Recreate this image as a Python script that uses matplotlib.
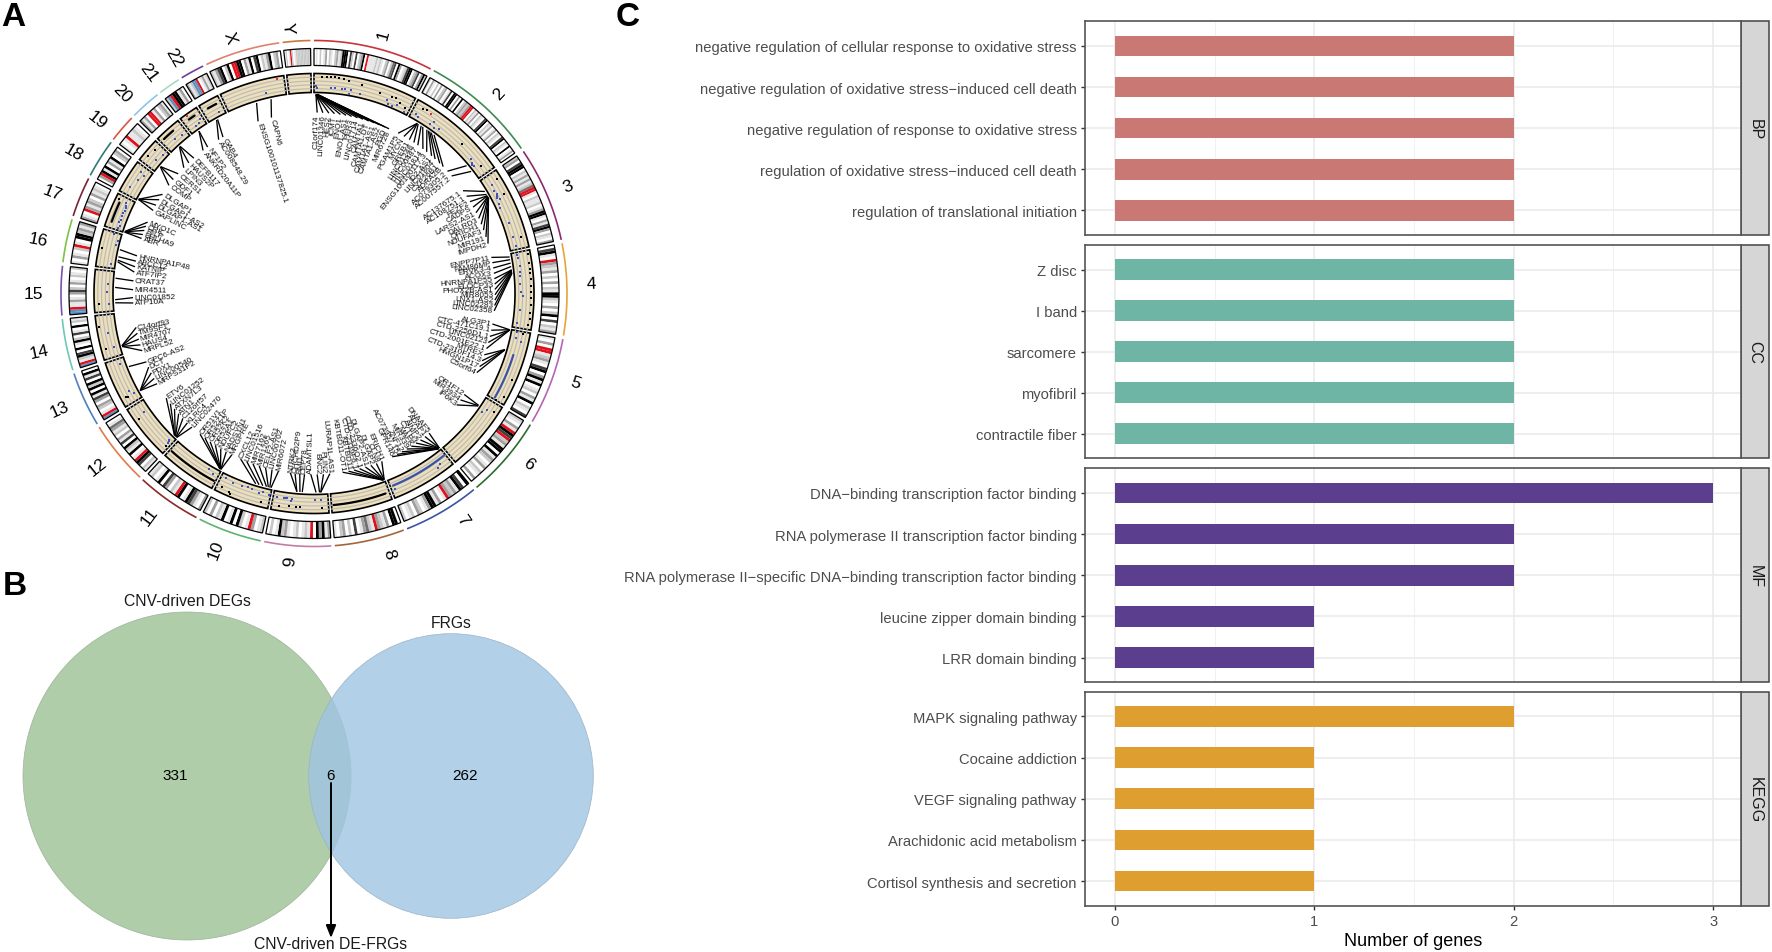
import numpy as np
import matplotlib
matplotlib.use("Agg")
import matplotlib.pyplot as plt
from matplotlib.collections import PolyCollection, LineCollection
from matplotlib.patches import Circle, Rectangle

plt.rcParams['font.family'] = ['Liberation Sans', 'DejaVu Sans']

W, H = 1772, 953

# ---------- Panel C data ----------
BP_TERMS = ["negative regulation of cellular response to oxidative stress",
            "negative regulation of oxidative stress\u2212induced cell death",
            "negative regulation of response to oxidative stress",
            "regulation of oxidative stress\u2212induced cell death",
            "regulation of translational initiation"]
BP_COUNTS = [2, 2, 2, 2, 2]
CC_TERMS = ["Z disc", "I band", "sarcomere", "myofibril", "contractile fiber"]
CC_COUNTS = [2, 2, 2, 2, 2]
MF_TERMS = ["DNA\u2212binding transcription factor binding",
            "RNA polymerase II transcription factor binding",
            "RNA polymerase II\u2212specific DNA\u2212binding transcription factor binding",
            "leucine zipper domain binding", "LRR domain binding"]
MF_COUNTS = [3, 2, 2, 1, 1]
KEGG_TERMS = ["MAPK signaling pathway", "Cocaine addiction", "VEGF signaling pathway",
              "Arachidonic acid metabolism", "Cortisol synthesis and secretion"]
KEGG_COUNTS = [2, 1, 1, 1, 1]

# ---------- Panel B data ----------
VENN_LEFT_ONLY = "331"
VENN_BOTH = "6"
VENN_RIGHT_ONLY = "262"

# ---------- Panel A data ----------
CHR_NAMES = ["1", "2", "3", "4", "5", "6", "7", "8", "9", "10", "11", "12", "13", "14",
             "15", "16", "17", "18", "19", "20", "21", "22", "X", "Y"]
CHR_MB = [248, 242, 198, 190, 181, 170, 159, 145, 138, 133, 135, 133, 114, 107,
          102, 90, 83, 80, 58, 64, 46, 50, 156, 57]
CHR_ARC_COLORS = ["#C8343A", "#3F8A4E", "#8A2A6E", "#E8A33D", "#B565B5", "#2F6B2F", "#3A53A4",
                  "#A5653A", "#C67BA6", "#5DB46E", "#8B2A2A", "#E07B4A", "#4F7FBF", "#6FC7B8",
                  "#7A52A8", "#7CC243", "#7A2230", "#2F7A72", "#D9553F", "#8EC6E8", "#A7DBC0",
                  "#6A3FA0", "#E08070", "#C8793A"]
CHR_LABEL_DEG = [15, 42.8, 67, 88, 108.8, 128.3, 146.6, 164, 185.1, 201, 216.4, 231.4, 245.6, 258,
                 270, 281, 291.1, 300.4, 308.8, 316.3, 323.2, 329.4, 341.9, 354.4]
CHR_LABEL_R = [269, 272.6, 276, 277, 275.7, 274, 270.7, 270, 268, 274, 276.7, 277.6, 279.7, 281,
               281, 281, 280, 279, 278, 278, 277, 275, 270, 267]
BANDS = {
    "1": "010201302102312666052050236 0r11112121023024506301256602350362".replace(" ", ""),
    "2": "2031020302301506603060232 3rr02130210560213013021056021060130".replace(" ", ""),
    "3": "23056602131312 4rr102112013661031563021 03".replace(" ", ""),
    "4": "05610r32130203021662103026050213",
    "5": "103 0rr1231056036160120316021 05".replace(" ", ""),
    "6": "21031r65r2316606132013021030",
    "7": "6056132 3r10316631023021 02".replace(" ", ""),
    "8": "06603123r12431050203201",
    "9": "316360r12102101326102 0".replace(" ", ""),
    "10": "21 03r1026061061203 02".replace(" ", ""),
    "11": "3013561 06r120350 6102 1".replace(" ", ""),
    "12": "12056r106126051302134 10".replace(" ", ""),
    "13": "br10230351606260516 0".replace(" ", ""),
    "14": "br12650601620510 6021".replace(" ", ""),
    "15": "bbr113103520310210 2".replace(" ", ""),
    "16": "10310 2r10662313".replace(" ", ""),
    "17": "310r3132031210",
    "18": "03r61603160230",
    "19": "101r11210",
    "20": "31 30rr130231".replace(" ", ""),
    "21": "2br66130",
    "22": "312bbr01312",
    "X": "21356026 0rr660316056021360230".replace(" ", ""),
    "Y": "0201r2012222222222",
}
BAND_COLORS = {"0": "#FFFFFF", "1": "#E6E6E6", "2": "#C8C8C8", "3": "#A0A0A0", "4": "#707070",
               "5": "#404040", "6": "#000000", "r": "#E0101C", "b": "#5F8FC0"}

BLACK_PTS = {
    "1": [(20, .85), (30, .85), (40, .85), (50, .85), (60, .85), (72, .8), (85, .75), (118, .7),
          (165, .55), (195, .55), (205, .55), (220, .45), (235, .3)],
    "2": [(20, .7), (30, .75), (150, .5), (220, .5)],
    "3": [(20, .8), (60, .7), (170, .7)],
    "4": [(8, .9), (30, .85), (45, .85), (55, .85), (70, .85), (85, .85), (100, .85), (115, .85),
          (130, .85), (150, .85), (165, .85), (180, .8)],
    "5": [(5, .6), (120, .8), (165, .8), (180, .5)],
    "6": [(20, .75)],
    "9": [(16, .7), (70, .7), (78, .7), (95, .7), (120, .75)],
    "10": [(20, .75), (95, .85), (100, .8), (120, .7)],
    "12": [(6, .6), (100, .75)],
    "13": [(18, .6), (20, .7)],
    "14": [(25, .75), (80, .85)],
    "15": [(20, .75)],
    "16": [(45, .85)],
    "17": [(72, .8)],
    "19": [(20, .75), (40, .7)],
}
BLUE_PTS = {
    "1": [(6, .35), (8, .25), (43, .3), (52, .3), (70, .3), (78, .3), (92, .3), (90, .1), (118, .2),
          (188, .3), (192, .15), (205, .1), (215, .25), (238, .1)],
    "2": [(12, .3), (20, .2), (55, .25), (60, .45), (70, .2), (80, .3), (190, .3), (200, .2),
          (205, .15), (210, .2)],
    "3": [(25, .4), (40, .35), (50, .4), (55, .35), (60, .3), (65, .4), (75, .25), (85, .2),
          (130, .35), (165, .3), (190, .35)],
    "4": [(6, .3), (15, .3), (35, .35), (50, .3), (60, .3), (80, .3), (100, .3), (110, .4),
          (145, .3), (178, .2)],
    "5": [(4, .3), (18, .3), (25, .6)],
    "6": [(25, .4), (35, .25)],
    "7": [(25, .6), (35, .7), (150, .55)],
    "9": [(17, .3), (33, .3), (90, .3), (93, .4), (104, .3), (108, .3), (112, .3), (128, .3)],
    "10": [(5, .3), (20, .2), (30, .3), (50, .2), (60, .2), (75, .25), (100, .25), (120, .2)],
    "11": [(15, .3), (30, .2)],
    "12": [(8, .4), (10, .3), (12, .25), (105, .35)],
    "13": [(20, .25), (30, .4), (100, .3)],
    "14": [(25, .3), (60, .45)],
    "15": [(18, .2), (50, .3), (70, .3)],
    "16": [(10, .2), (60, .15), (72, .1), (85, .4)],
    "17": [(5, .3), (12, .25), (20, .35), (28, .3), (38, .3), (45, .35), (52, .25), (60, .3),
           (65, .35), (70, .4)],
    "18": [(20, .6), (45, .45), (60, .3), (65, .55)],
    "19": [(25, .3), (45, .2)],
    "20": [(30, .35), (50, .25)],
    "21": [(20, .2), (30, .25), (38, .4)],
    "22": [(35, .2)],
    "X": [(105, .3)],
}
RED_PTS = {"2": [(45, .7)], "21": [(15, .9)], "X": [(140, .85)]}
# chromosome, start Mb, end Mb, level, colour
TRACK_RUNS = [("5", 61, 176, .4, "#3A53A8"), ("7", 3, 152, .35, "#3A53A8"),
              ("8", 10, 140, .6, "#000000"), ("11", 4, 130, .6, "#000000"),
              ("17", 15, 65, .72, "#000000"), ("20", 10, 40, .75, "#000000"),
              ("21", 15, 32, .7, "#000000"), ("22", 15, 38, .65, "#000000")]

# chromosome: gene names, gene position (Mb), label direction (degrees clockwise from the top)
GENES = {
    "1": (["C1orf174", "LINC01346", "HES2", "ICMT", "ENO1", "ENO1-AS1", "PER3", "LINC01714", "CAMTA1",
           "CAMTA1-DT", "CAMTA1-AS1", "CAMTA1-AS2", "PGD", "MIR6728"],
          [5, 5, 5, 6, 6, 6, 7, 7, 7, 8, 8, 8, 9, 9],
          [1, 2.8, 4.7, 6.5, 8.4, 10.2, 12, 13.9, 15.7, 17.6, 19.4, 21.2, 23.1, 24.5]),
    "2": (["PGAM1P5", "MYCN", "GREB1", "LINC01248", "LINC00487", "LINC01814", "ENSG100100117.3",
           "ID2-AS1", "LINC01804", "CYP26B1", "ADRA2B", "AC079305.2", "AC007557.2"],
          [27, 27, 27, 30, 39, 44, 57, 62, 66, 71, 80, 197, 216],
          [27.7, 29.8, 31.8, 33.5, 35, 37, 38.5, 40.5, 42, 44, 45.5, 47.5, 49.5]),
    "3": (["AC137675.1", "AC108751.1", "FEZF2", "CADPS", "LARS2-AS1", "DALRD3", "QRICH1", "NDUFAF3",
           "MIR191", "IMPDH2"],
          [30, 39, 43, 43, 45, 45, 47, 48, 49, 49],
          [55.4, 57.5, 59.5, 61.5, 63.5, 65.5, 67.5, 69.5, 71.8, 74]),
    "4": (["ENPP7P11", "FAM86MP", "ERVK3-4", "ACOX3", "HNRNPA1P55", "ELOCP33", "PHOX2B-AS1", "MIR8053",
           "LNX1-AS2", "LINC02283", "LINC02358"],
          [8, 15, 24, 33, 42, 42, 42, 45, 47, 49, 51],
          [78.5, 80.2, 81.9, 83.6, 85.3, 87, 88.7, 90.4, 92.1, 93.8, 95.5]),
    "5": (["ALG3P1", "CTC-471C19.1", "CTD-2256D1.1", "LINC02123", "CTD-2001E22.1", "MTREX",
           "CTD-2310F14.3", "HMGN1P17", "C5orf64"],
          [1, 1, 2, 2, 2, 54, 54, 55, 55],
          [99.7, 101.7, 103.7, 105.7, 107.7, 109.8, 111.8, 113.8, 115.9]),
    "6": (["OR1F12", "MIR3934", "IP6K3"], [27, 28, 29], [123.9, 126, 128]),
    "7": (["DNAAF5", "ADAP1", "AIMP2", "CYTH3", "MAFK", "MIR339", "ZNF12", "AC073957.15", "GPR146"],
          [1, 1, 2, 2, 3, 3, 4, 4, 5],
          [140.5, 142.2, 144, 145.7, 147.5, 149.2, 151, 152.7, 154.4]),
    "8": (["ERICH1", "CLN8", "DLGAP2", "DLGAP2-AS1", "CTD-2336O2.1", "CTD-2339F6.1", "KBTBD11",
           "KBTBD11-OT1"],
          [1, 1, 2, 2, 3, 3, 4, 4],
          [158, 159.85, 161.7, 163.5, 165.4, 167.2, 169, 170.9]),
    "9": (["LURAP1L-AS1", "PLIN2", "BNC2", "ADAMTSL1", "CEP78", "RMI1", "CHCHD2P9", "NTRK2"],
          [18, 18, 21, 30, 66, 72, 80, 80],
          [175, 177, 179, 181, 183, 184.5, 186, 187.5]),
    "10": (["MIR6072", "LINC00702", "CELF2-AS1", "MIR1265", "MIR7162", "LINC01516", "CXCL12"],
           [3, 6, 10, 15, 25, 35, 44],
           [191.3, 193.4, 195.5, 197.6, 199.7, 201.8, 203.9]),
    "11": (["MRGPRE", "NADSYN1", "NDUFC2", "OR52A1", "OR52K2", "OR52Z1P", "OR51V1"],
           [2, 2, 3, 3, 4, 4, 5],
           [207, 209, 211, 213, 215, 217, 219]),
    "12": (["LINC02470", "KLRC4", "C12orf57", "ATN1", "ATXN7L3", "LINC01252", "ETV6"],
           [2, 3, 4, 6, 7, 9, 10],
           [222.4, 224.4, 226.4, 228.4, 230.4, 232.5, 234.7]),
    "13": (["MRPS31P2", "LINC00540", "PDX1", "DCT", "GPC6-AS2"], [17, 17, 17, 17, 86],
           [240.1, 242, 244, 246, 247.8]),
    "14": (["MRPL52", "HAUS4", "MIR4707", "TM9SF1", "C14orf93"], [20, 20, 21, 22, 22],
           [251.6, 253.5, 255.4, 257.3, 259.2]),
    "15": (["ATP10A", "LINC01852", "MIR4511", "CRAT37"], [21, 29, 61, 85], [267, 268.7, 271.2, 274]),
    "16": (["ATF7IP2", "KATNIP", "ABCC12", "HNRNPA1P48"], [19, 23, 32, 51], [276.8, 278.5, 280.3, 282]),
    "17": (["ABR", "BHLHA9", "RILP", "CRK", "MYO1C"], [1, 1, 2, 2, 3], [287.7, 289, 290.4, 291.8, 293.2]),
    "18": (["GAPLINC", "DLGAP1-AS1", "DLGAP1-AS2", "DLGAP1"], [3, 3, 4, 4], [297.3, 299.2, 301.2, 303.2]),
    "19": (["COMP", "GDF1", "CERS1"], [18, 19, 19], [306.7, 309, 311.4]),
    "20": (["LPIN3", "HAUS2P", "DEFB117"], [25, 26, 27], [314, 316.2, 318.4]),
    "21": (["ANKRD20A11P", "NF1P2"], [19, 19], [322.2, 324]),
    "22": (["AC008548.29", "GAB4"], [20, 23], [328.2, 329.8]),
    "X": (["ENSG100101137825.1", "CAPN6"], [76, 115], [342, 346.4]),
}

# ---------- figure ----------
fig = plt.figure(figsize=(W / 100, H / 100), dpi=100, facecolor="white")
ov = fig.add_axes([0, 0, 1, 1])
ov.set_xlim(0, W)
ov.set_ylim(H, 0)
ov.axis("off")

CX, CY = 314, 294.5
GAP = 0.8
DEG_PER_MB = (360 - 24 * GAP) / sum(CHR_MB)
chr_start = {}
pos = 0.0
for nm, mb in zip(CHR_NAMES, CHR_MB):
    chr_start[nm] = pos
    pos += mb * DEG_PER_MB + GAP


def xy(theta, r):
    t = np.radians(theta)
    return CX + r * np.sin(t), CY - r * np.cos(t)


def arc(t0, t1, r, n=None):
    n = n or max(2, int(abs(t1 - t0) / 0.5) + 2)
    ts = np.linspace(t0, t1, n)
    return np.column_stack(xy(ts, r))


def sector(t0, t1, r0, r1):
    return np.vstack([arc(t0, t1, r1), arc(t1, t0, r0)])


R_ARC, R_ID1, R_ID0, R_TR1, R_TR0, R_GENE, R_LINK, R_TEXT = 253, 245, 228, 220, 201, 199, 181, 179.5
BEIGE = "#EEDFBC"

for nm, mb, col, lab_deg, lab_r in zip(CHR_NAMES, CHR_MB, CHR_ARC_COLORS, CHR_LABEL_DEG, CHR_LABEL_R):
    t0 = chr_start[nm]
    t1 = t0 + mb * DEG_PER_MB
    # outer coloured arc
    a = arc(t0, t1, R_ARC)
    ov.plot(a[:, 0], a[:, 1], color=col, lw=1.2, solid_capstyle="butt")
    # ideogram
    s = BANDS[nm]
    edges = np.linspace(t0, t1, len(s) + 1)
    polys = [sector(edges[i], edges[i + 1], R_ID0, R_ID1) for i in range(len(s))]
    ov.add_collection(PolyCollection(polys, facecolors=[BAND_COLORS[c] for c in s], edgecolors="none"))
    ov.add_patch(plt.Polygon(sector(t0, t1, R_ID0, R_ID1), closed=True, fill=False, ec="black", lw=0.9))
    # track
    ov.add_patch(plt.Polygon(sector(t0, t1, R_TR0, R_TR1), closed=True, fc=BEIGE, ec="none"))
    for lev in (0.2, 0.4, 0.6, 0.8):
        g = arc(t0, t1, R_TR0 + lev * (R_TR1 - R_TR0))
        ov.plot(g[:, 0], g[:, 1], color="#BDBDB5", lw=0.9)
    for cnm, mb0, mb1, lev, c in TRACK_RUNS:
        if cnm == nm:
            g = arc(t0 + mb0 * DEG_PER_MB, t0 + mb1 * DEG_PER_MB, R_TR0 + lev * (R_TR1 - R_TR0))
            ov.plot(g[:, 0], g[:, 1], color=c, lw=1.6, solid_capstyle="round")
    for pts, c in ((BLACK_PTS, "#000000"), (BLUE_PTS, "#3A53C0"), (RED_PTS, "#E0303C")):
        for m, lev in pts.get(nm, []):
            px, py = xy(t0 + m * DEG_PER_MB, R_TR0 + lev * (R_TR1 - R_TR0))
            ov.plot(px, py, "s", ms=1.6, color=c, mew=0)
    ov.add_patch(plt.Polygon(sector(t0, t1, R_TR0, R_TR1), closed=True, fill=False, ec="black", lw=1.2))
    # chromosome name
    lx, ly = xy(lab_deg, lab_r)
    math_a = 90 - lab_deg
    rot = math_a if lab_deg <= 180 else math_a + 180
    ov.text(lx, ly, nm, rotation=rot, rotation_mode="anchor", ha="center", va="center",
            fontsize=12.5, color="black")
    # gene labels
    if nm in GENES:
        names, mbs, degs = GENES[nm]
        segs = []
        for g_name, m, d in zip(names, mbs, degs):
            gx, gy = xy(t0 + m * DEG_PER_MB, R_GENE)
            ex, ey = xy(d, R_LINK)
            segs.append([(gx, gy), (ex, ey)])
            tx, ty = xy(d, R_TEXT)
            ma = 90 - d
            if d <= 180:
                ov.text(tx, ty, g_name, rotation=ma, rotation_mode="anchor", ha="right", va="center",
                        fontsize=5.9, color="#111111")
            else:
                ov.text(tx, ty, g_name, rotation=ma + 180, rotation_mode="anchor", ha="left", va="center",
                        fontsize=5.9, color="#111111")
        ov.add_collection(LineCollection(segs, colors="black", linewidths=0.95))

# Panel letters
ov.text(1, 18, "A", fontsize=24, fontweight="bold", ha="left", va="center")
ov.text(3, 587, "B", fontsize=24, fontweight="bold", ha="left", va="center")
ov.text(616, 17, "C", fontsize=24, fontweight="bold", ha="left", va="center")

# ---------- Panel B ----------
ov.add_patch(Circle((187, 777), 164, fc="#AFCDA9", ec="#9DB39A", lw=0.5, zorder=2))
ov.add_patch(Circle((451, 777), 142.3, fc=(160 / 255, 197 / 255, 227 / 255, .81), ec="#9DB2C4", lw=0.5, zorder=3))
ov.text(175, 776, VENN_LEFT_ONLY, fontsize=11, ha="center", va="center", zorder=4)
ov.text(330.7, 776, VENN_BOTH, fontsize=11, ha="center", va="center", zorder=4)
ov.text(465, 776, VENN_RIGHT_ONLY, fontsize=11, ha="center", va="center", zorder=4)
ov.text(187, 601.5, "CNV-driven DEGs", fontsize=11.3, ha="center", va="center", color="#1A1A1A")
ov.text(451, 623.5, "FRGs", fontsize=11.3, ha="center", va="center", color="#1A1A1A")
ov.text(331, 945, "CNV-driven DE-FRGs", fontsize=11.3, ha="center", va="center", color="#1A1A1A")
ov.annotate("", xy=(331, 939), xytext=(331, 784), zorder=5,
            arrowprops=dict(arrowstyle="-|>,head_width=0.3,head_length=0.75", color="black", lw=1.4,
                            shrinkA=0, shrinkB=0))

# ---------- Panel C ----------
L, R, SR = 1085.4, 1741, 1769
PANELS = [("BP", BP_TERMS, BP_COUNTS, "#C97874", 22.3, 236),
          ("CC", CC_TERMS, CC_COUNTS, "#6FB5A6", 246, 459.3),
          ("MF", MF_TERMS, MF_COUNTS, "#5B3F8E", 469.3, 683.3),
          ("KEGG", KEGG_TERMS, KEGG_COUNTS, "#DF9E30", 692.7, 906.7)]
for i, (strip, terms, vals, color, top, bot) in enumerate(PANELS):
    ax = fig.add_axes([L / W, 1 - bot / H, (R - L) / W, (bot - top) / H])
    y = np.arange(len(terms))
    ax.set_axisbelow(True)
    ax.barh(y, vals, height=0.5, color=color, zorder=3)
    ax.set_xlim(-0.148, 3.14)
    ax.set_ylim(len(terms) - 1 + 0.6, -0.6)
    ax.set_yticks(y)
    ax.set_yticklabels(terms)
    ax.set_xticks([0, 1, 2, 3])
    ax.set_xticks([0.5, 1.5, 2.5], minor=True)
    ax.grid(True, which="major", color="#EBEBEB", lw=1.2)
    ax.grid(True, which="minor", axis="x", color="#F1F1F1", lw=0.7)
    ax.tick_params(axis="y", length=3.2, width=1, color="#333333", labelcolor="#4D4D4D",
                   labelsize=10.6, pad=3)
    ax.tick_params(axis="x", which="minor", length=0)
    if i == len(PANELS) - 1:
        ax.tick_params(axis="x", which="major", length=3.2, width=1, color="#333333",
                       labelcolor="#4D4D4D", labelsize=10.6, pad=3)
        ax.set_xlabel("Number of genes", fontsize=13, color="black", labelpad=3)
    else:
        ax.tick_params(axis="x", which="major", length=0, labelbottom=False)
    for sp in ax.spines.values():
        sp.set_color("#555555")
        sp.set_linewidth(1.2)
    ov.add_patch(Rectangle((R, top), SR - R, bot - top, fc="#D6D6D6", ec="#444444", lw=1.1))
    ov.text((R + SR) / 2, (top + bot) / 2, strip, rotation=-90, ha="center", va="center",
            fontsize=11.5, color="#1A1A1A")

fig.savefig("out.png", dpi=100, facecolor="white")
